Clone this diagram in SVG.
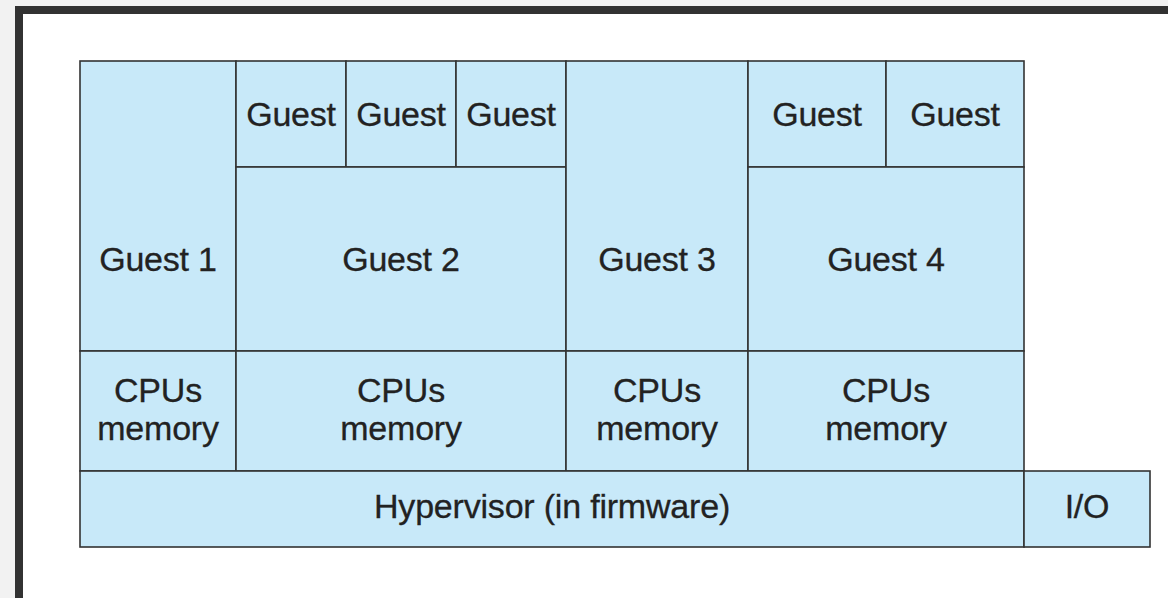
<svg xmlns="http://www.w3.org/2000/svg" width="1168" height="598" viewBox="0 0 1168 598">
<style>
.b{fill:#c8e9f9;stroke:#333;stroke-width:1.6}
.t{font-family:"Liberation Sans",Arial,sans-serif;font-size:34px;fill:#222;stroke:#222;stroke-width:0.3;text-anchor:middle;letter-spacing:-0.2px}
</style>
<rect x="0" y="0" width="1168" height="598" fill="#f2f2f2"/>
<rect x="15" y="6" width="1153" height="592" fill="#323232"/>
<rect x="23" y="14" width="1145" height="584" fill="#ffffff"/>
<g id="guest1"><rect class="b" x="80" y="61" width="156" height="290"/><text class="t" x="158" y="271">Guest 1</text></g>
<g id="guest2a"><rect class="b" x="236" y="61" width="110" height="106"/><text class="t" x="291" y="126">Guest</text></g>
<g id="guest2b"><rect class="b" x="346" y="61" width="110" height="106"/><text class="t" x="401" y="126">Guest</text></g>
<g id="guest2c"><rect class="b" x="456" y="61" width="110" height="106"/><text class="t" x="511" y="126">Guest</text></g>
<g id="guest2"><rect class="b" x="236" y="167" width="330" height="184"/><text class="t" x="401" y="271">Guest 2</text></g>
<g id="guest3"><rect class="b" x="566" y="61" width="182" height="290"/><text class="t" x="657" y="271">Guest 3</text></g>
<g id="guest4a"><rect class="b" x="748" y="61" width="138" height="106"/><text class="t" x="817" y="126">Guest</text></g>
<g id="guest4b"><rect class="b" x="886" y="61" width="138" height="106"/><text class="t" x="955" y="126">Guest</text></g>
<g id="guest4"><rect class="b" x="748" y="167" width="276" height="184"/><text class="t" x="886" y="271">Guest 4</text></g>
<g id="cpu1"><rect class="b" x="80" y="351" width="156" height="120"/><text class="t" x="158" y="402">CPUs</text><text class="t" x="158" y="440">memory</text></g>
<g id="cpu2"><rect class="b" x="236" y="351" width="330" height="120"/><text class="t" x="401" y="402">CPUs</text><text class="t" x="401" y="440">memory</text></g>
<g id="cpu3"><rect class="b" x="566" y="351" width="182" height="120"/><text class="t" x="657" y="402">CPUs</text><text class="t" x="657" y="440">memory</text></g>
<g id="cpu4"><rect class="b" x="748" y="351" width="276" height="120"/><text class="t" x="886" y="402">CPUs</text><text class="t" x="886" y="440">memory</text></g>
<g id="hypervisor"><rect class="b" x="80" y="471" width="944" height="76"/><text class="t" x="552" y="518">Hypervisor (in firmware)</text></g>
<g id="io"><rect class="b" x="1024" y="471" width="126" height="76"/><text class="t" x="1087" y="518">I/O</text></g>
</svg>
